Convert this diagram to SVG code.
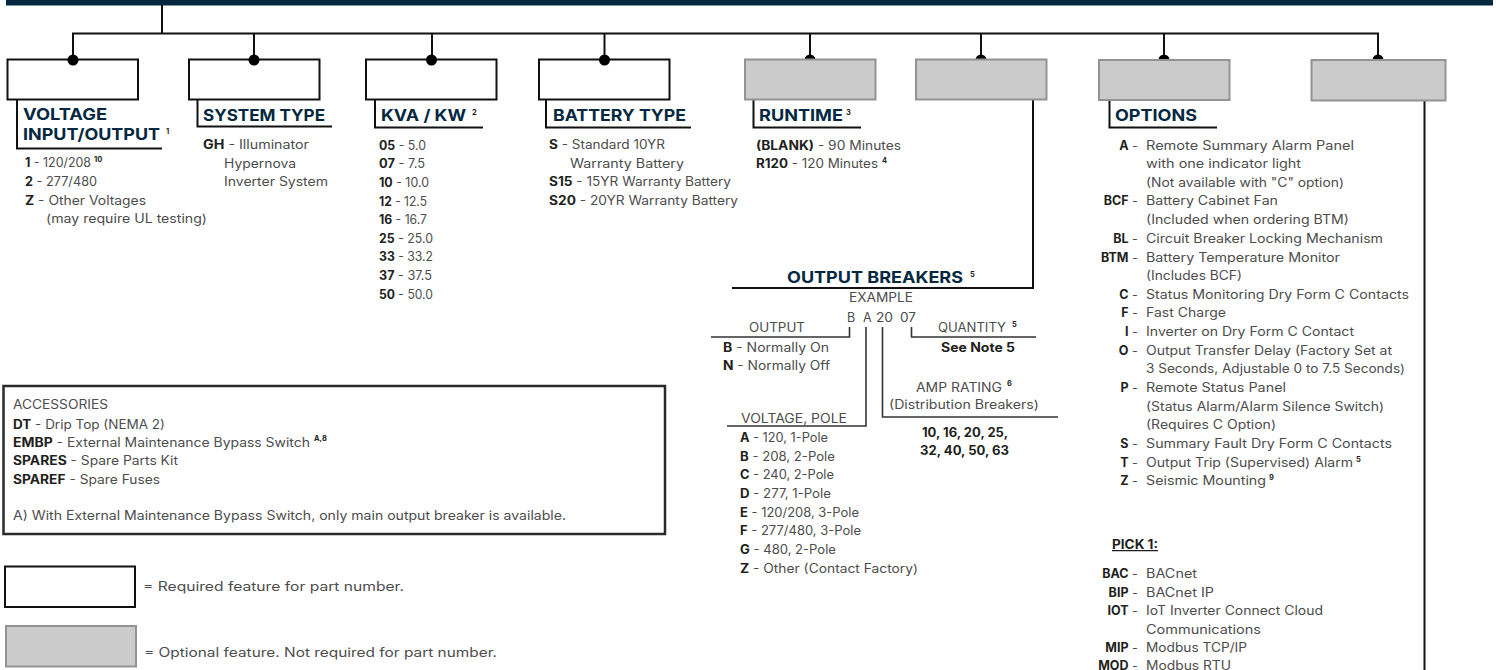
<svg xmlns="http://www.w3.org/2000/svg" width="1496" height="670" viewBox="0 0 1496 670">
<style>
text{font-family:Inter,"Noto Sans","Liberation Sans",sans-serif;font-size:12.5px;fill:#4d4d4d}
tspan.b,text.b{font-weight:700;fill:#231f20}
text.h{font-size:16px;font-weight:700;fill:#03283f}
text.s{font-size:7.5px;font-weight:700;fill:#231f20}
text.k{font-weight:700;fill:#231f20;text-anchor:end}
.w{fill:#fff;stroke:#111;stroke-width:2}
.g{fill:#cbcbcb;stroke:#939393;stroke-width:2}
.l{fill:none;stroke:#111;stroke-width:2}
.t{fill:none;stroke:#333;stroke-width:1.6}
</style>
<defs><circle id="dot" r="5.5" fill="#000"/></defs>
<rect id="header" x="6" y="0" width="1487" height="5.5" fill="#03283f"/>
<g id="node-voltage"><rect class="w" x="7.500" y="59.500" width="130.500" height="40"/>
<text class="h" x="23" y="119.500" textLength="84" lengthAdjust="spacingAndGlyphs">VOLTAGE</text>
<text class="h" x="23" y="140" textLength="137" lengthAdjust="spacingAndGlyphs">INPUT/OUTPUT</text><text class="s" x="166" y="134">1</text>
<text x="25" y="167" textLength="66" lengthAdjust="spacingAndGlyphs"><tspan class="b">1</tspan> - 120/208</text><text class="s" x="94" y="162">10</text>
<text x="25" y="186" textLength="72" lengthAdjust="spacingAndGlyphs"><tspan class="b">2</tspan> - 277/480</text>
<text x="25" y="204.500" textLength="121" lengthAdjust="spacingAndGlyphs"><tspan class="b">Z</tspan> - Other Voltages</text>
<text x="46" y="223" textLength="161" lengthAdjust="spacingAndGlyphs">(may require UL testing)</text></g>
<g id="node-system-type"><rect class="w" x="189" y="59.500" width="130.500" height="40"/>
<text class="h" x="203" y="120.500" textLength="122" lengthAdjust="spacingAndGlyphs">SYSTEM TYPE</text>
<text x="203" y="149" textLength="106" lengthAdjust="spacingAndGlyphs"><tspan class="b">GH</tspan> - Illuminator</text>
<text x="224" y="167.500" textLength="72" lengthAdjust="spacingAndGlyphs">Hypernova</text>
<text x="224" y="186" textLength="104" lengthAdjust="spacingAndGlyphs">Inverter System</text></g>
<g id="node-kva"><rect class="w" x="366" y="59.500" width="130.500" height="40"/>
<text class="h" x="381" y="121" textLength="85" lengthAdjust="spacingAndGlyphs">KVA / KW</text><text class="s" x="472" y="115">2</text>
<text x="379" y="150" textLength="47" lengthAdjust="spacingAndGlyphs"><tspan class="b">05</tspan> - 5.0</text>
<text x="379" y="168" textLength="46" lengthAdjust="spacingAndGlyphs"><tspan class="b">07</tspan> - 7.5</text>
<text x="379" y="187" textLength="50" lengthAdjust="spacingAndGlyphs"><tspan class="b">10</tspan> - 10.0</text>
<text x="379" y="206" textLength="48" lengthAdjust="spacingAndGlyphs"><tspan class="b">12</tspan> - 12.5</text>
<text x="379" y="224" textLength="48" lengthAdjust="spacingAndGlyphs"><tspan class="b">16</tspan> - 16.7</text>
<text x="379" y="243" textLength="54" lengthAdjust="spacingAndGlyphs"><tspan class="b">25</tspan> - 25.0</text>
<text x="379" y="261" textLength="54" lengthAdjust="spacingAndGlyphs"><tspan class="b">33</tspan> - 33.2</text>
<text x="379" y="280" textLength="53" lengthAdjust="spacingAndGlyphs"><tspan class="b">37</tspan> - 37.5</text>
<text x="379" y="299" textLength="54" lengthAdjust="spacingAndGlyphs"><tspan class="b">50</tspan> - 50.0</text></g>
<g id="node-battery"><rect class="w" x="539" y="59.500" width="130.500" height="40"/>
<text class="h" x="553" y="121" textLength="133" lengthAdjust="spacingAndGlyphs">BATTERY TYPE</text>
<text x="549" y="149" textLength="116" lengthAdjust="spacingAndGlyphs"><tspan class="b">S</tspan> - Standard 10YR</text>
<text x="570" y="167.500" textLength="114" lengthAdjust="spacingAndGlyphs">Warranty Battery</text>
<text x="549" y="186" textLength="182" lengthAdjust="spacingAndGlyphs"><tspan class="b">S15</tspan> - 15YR Warranty Battery</text>
<text x="549" y="204.500" textLength="189" lengthAdjust="spacingAndGlyphs"><tspan class="b">S20</tspan> - 20YR Warranty Battery</text></g>
<g id="connectors">
<path class="l" d="M162 5V33.5M73 60V33.5H1378V60M254 33.5V60M432 33.5V60M604.5 33.5V60M810 33.5V60M981 33.5V60M1164 33.5V60"/>
<use href="#dot" x="73" y="60"/><use href="#dot" x="254" y="60"/><use href="#dot" x="431.5" y="60"/><use href="#dot" x="604.5" y="60"/><use href="#dot" x="810" y="60"/><use href="#dot" x="981" y="60"/><use href="#dot" x="1164" y="60"/><use href="#dot" x="1378" y="60"/>
<path class="l" d="M17 100V148.5H162M197.500 100V126.500H332M375 100V127.500H483M546 100V127.500H691M753.500 100V127.500H861M1109.500 100V127.500H1217"/>
<path class="l" d="M1033 100V288H732M1424.500 100V670"/>
<path class="t" d="M711 337H849.500V327M1036 337H911.500V327M727 426H866V327M1058 417H882.500V327"/>
</g>
<g id="node-runtime"><rect class="g" x="745" y="59.500" width="130.500" height="40"/>
<text class="h" x="759" y="121" textLength="84" lengthAdjust="spacingAndGlyphs">RUNTIME</text><text class="s" x="846" y="115">3</text>
<text x="756" y="150" textLength="145" lengthAdjust="spacingAndGlyphs"><tspan class="b">(BLANK)</tspan> - 90 Minutes</text>
<text x="756" y="168" textLength="122" lengthAdjust="spacingAndGlyphs"><tspan class="b">R120</tspan> - 120 Minutes</text><text class="s" x="882" y="163">4</text></g>
<g id="node-output-breakers"><rect class="g" x="916" y="59.500" width="130.500" height="40"/>
<text class="h" x="787" y="283" textLength="176" lengthAdjust="spacingAndGlyphs">OUTPUT BREAKERS</text><text class="s" x="970" y="277">5</text>
<text x="849" y="302" textLength="64" lengthAdjust="spacingAndGlyphs">EXAMPLE</text>
<text x="847" y="321.500">B</text><text x="863" y="321.500">A</text><text x="876" y="321.500" textLength="17" lengthAdjust="spacingAndGlyphs">20</text><text x="900" y="321.500" textLength="16" lengthAdjust="spacingAndGlyphs">07</text>
<text x="749" y="332" textLength="56" lengthAdjust="spacingAndGlyphs">OUTPUT</text>
<text x="723" y="351.500" textLength="106" lengthAdjust="spacingAndGlyphs"><tspan class="b">B</tspan> - Normally On</text>
<text x="723" y="370" textLength="107" lengthAdjust="spacingAndGlyphs"><tspan class="b">N</tspan> - Normally Off</text>
<text x="938" y="332" textLength="68" lengthAdjust="spacingAndGlyphs">QUANTITY</text><text class="s" x="1012" y="327">5</text>
<text class="b" x="941" y="352" textLength="74" lengthAdjust="spacingAndGlyphs">See Note 5</text>
<text x="916" y="391.500" textLength="86" lengthAdjust="spacingAndGlyphs">AMP RATING</text><text class="s" x="1007" y="386">6</text>
<text x="889" y="409" textLength="150" lengthAdjust="spacingAndGlyphs">(Distribution Breakers)</text>
<text class="b" x="922" y="436.500" textLength="86" lengthAdjust="spacingAndGlyphs">10, 16, 20, 25,</text>
<text class="b" x="920" y="455" textLength="89" lengthAdjust="spacingAndGlyphs">32, 40, 50, 63</text>
<text x="741" y="422.500" textLength="106" lengthAdjust="spacingAndGlyphs">VOLTAGE, POLE</text>
<text x="740" y="442" textLength="88" lengthAdjust="spacingAndGlyphs"><tspan class="b">A</tspan> - 120, 1-Pole</text>
<text x="740" y="461" textLength="95" lengthAdjust="spacingAndGlyphs"><tspan class="b">B</tspan> - 208, 2-Pole</text>
<text x="740" y="479" textLength="94" lengthAdjust="spacingAndGlyphs"><tspan class="b">C</tspan> - 240, 2-Pole</text>
<text x="740" y="498" textLength="91" lengthAdjust="spacingAndGlyphs"><tspan class="b">D</tspan> - 277, 1-Pole</text>
<text x="740" y="517" textLength="119" lengthAdjust="spacingAndGlyphs"><tspan class="b">E</tspan> - 120/208, 3-Pole</text>
<text x="740" y="535" textLength="121" lengthAdjust="spacingAndGlyphs"><tspan class="b">F</tspan> - 277/480, 3-Pole</text>
<text x="740" y="554" textLength="96" lengthAdjust="spacingAndGlyphs"><tspan class="b">G</tspan> - 480, 2-Pole</text>
<text x="740" y="573" textLength="178" lengthAdjust="spacingAndGlyphs"><tspan class="b">Z</tspan> - Other (Contact Factory)</text></g>
<g id="node-options"><rect class="g" x="1099" y="60" width="130.500" height="40"/>
<text class="h" x="1115" y="121" textLength="82" lengthAdjust="spacingAndGlyphs">OPTIONS</text>
<text class="k" x="1128.500" y="150">A</text><text x="1132" y="150">-</text><text x="1146" y="150" textLength="208" lengthAdjust="spacingAndGlyphs">Remote Summary Alarm Panel</text>
<text x="1146" y="168" textLength="155" lengthAdjust="spacingAndGlyphs">with one indicator light</text>
<text x="1146" y="187" textLength="198" lengthAdjust="spacingAndGlyphs">(Not available with "C" option)</text>
<text class="k" x="1128.500" y="205">BCF</text><text x="1132" y="205">-</text><text x="1146" y="205" textLength="132" lengthAdjust="spacingAndGlyphs">Battery Cabinet Fan</text>
<text x="1146" y="224" textLength="203" lengthAdjust="spacingAndGlyphs">(Included when ordering BTM)</text>
<text class="k" x="1128.500" y="243">BL</text><text x="1132" y="243">-</text><text x="1146" y="243" textLength="237" lengthAdjust="spacingAndGlyphs">Circuit Breaker Locking Mechanism</text>
<text class="k" x="1128.500" y="261.500">BTM</text><text x="1132" y="261.500">-</text><text x="1146" y="261.500" textLength="194" lengthAdjust="spacingAndGlyphs">Battery Temperature Monitor</text>
<text x="1146" y="280" textLength="96" lengthAdjust="spacingAndGlyphs">(Includes BCF)</text>
<text class="k" x="1128.500" y="299">C</text><text x="1132" y="299">-</text><text x="1146" y="299" textLength="263" lengthAdjust="spacingAndGlyphs">Status Monitoring Dry Form C Contacts</text>
<text class="k" x="1128.500" y="317">F</text><text x="1132" y="317">-</text><text x="1146" y="317" textLength="80" lengthAdjust="spacingAndGlyphs">Fast Charge</text>
<text class="k" x="1128.500" y="336">I</text><text x="1132" y="336">-</text><text x="1146" y="336" textLength="208" lengthAdjust="spacingAndGlyphs">Inverter on Dry Form C Contact</text>
<text class="k" x="1128.500" y="355">O</text><text x="1132" y="355">-</text><text x="1146" y="355" textLength="246" lengthAdjust="spacingAndGlyphs">Output Transfer Delay (Factory Set at</text>
<text x="1146" y="373" textLength="259" lengthAdjust="spacingAndGlyphs">3 Seconds, Adjustable 0 to 7.5 Seconds)</text>
<text class="k" x="1128.500" y="392">P</text><text x="1132" y="392">-</text><text x="1146" y="392" textLength="140" lengthAdjust="spacingAndGlyphs">Remote Status Panel</text>
<text x="1146" y="411" textLength="238" lengthAdjust="spacingAndGlyphs">(Status Alarm/Alarm Silence Switch)</text>
<text x="1146" y="429" textLength="130" lengthAdjust="spacingAndGlyphs">(Requires C Option)</text>
<text class="k" x="1128.500" y="448">S</text><text x="1132" y="448">-</text><text x="1146" y="448" textLength="246" lengthAdjust="spacingAndGlyphs">Summary Fault Dry Form C Contacts</text>
<text class="k" x="1128.500" y="467">T</text><text x="1132" y="467">-</text><text x="1146" y="467" textLength="207" lengthAdjust="spacingAndGlyphs">Output Trip (Supervised) Alarm</text><text class="s" x="1356" y="462">5</text>
<text class="k" x="1128.500" y="485">Z</text><text x="1132" y="485">-</text><text x="1146" y="485" textLength="120" lengthAdjust="spacingAndGlyphs">Seismic Mounting</text><text class="s" x="1269" y="480">9</text>
<text class="b" x="1112" y="549" textLength="46" lengthAdjust="spacingAndGlyphs" text-decoration="underline" font-size="11.500">PICK 1:</text>
<text class="k" x="1128.500" y="578">BAC</text><text x="1132" y="578">-</text><text x="1146" y="578" textLength="51" lengthAdjust="spacingAndGlyphs">BACnet</text>
<text class="k" x="1128.500" y="597">BIP</text><text x="1132" y="597">-</text><text x="1146" y="597" textLength="68" lengthAdjust="spacingAndGlyphs">BACnet IP</text>
<text class="k" x="1128.500" y="615">IOT</text><text x="1132" y="615">-</text><text x="1146" y="615" textLength="177" lengthAdjust="spacingAndGlyphs">IoT Inverter Connect Cloud</text>
<text x="1146" y="633.500" textLength="115" lengthAdjust="spacingAndGlyphs">Communications</text>
<text class="k" x="1128.500" y="652">MIP</text><text x="1132" y="652">-</text><text x="1146" y="652" textLength="101" lengthAdjust="spacingAndGlyphs">Modbus TCP/IP</text>
<text class="k" x="1128.500" y="669.500">MOD</text><text x="1132" y="669.500">-</text><text x="1146" y="669.500" textLength="85" lengthAdjust="spacingAndGlyphs">Modbus RTU</text></g>
<g id="node-last"><rect class="g" x="1311.500" y="60" width="134" height="40.500"/></g>
<g id="accessories"><rect x="3.500" y="386" width="661.500" height="148" fill="#fff" stroke="#2a2a2a" stroke-width="2.500"/>
<text x="13" y="409" textLength="95" lengthAdjust="spacingAndGlyphs">ACCESSORIES</text>
<text x="13" y="429" textLength="152" lengthAdjust="spacingAndGlyphs"><tspan class="b">DT</tspan> - Drip Top (NEMA 2)</text>
<text x="13" y="447" textLength="297" lengthAdjust="spacingAndGlyphs"><tspan class="b">EMBP</tspan> - External Maintenance Bypass Switch</text><text class="s" x="314" y="441">A,8</text>
<text x="13" y="465" textLength="165" lengthAdjust="spacingAndGlyphs"><tspan class="b">SPARES</tspan> - Spare Parts Kit</text>
<text x="13" y="484" textLength="147" lengthAdjust="spacingAndGlyphs"><tspan class="b">SPAREF</tspan> - Spare Fuses</text>
<text x="13" y="520" textLength="553" lengthAdjust="spacingAndGlyphs">A) With External Maintenance Bypass Switch, only main output breaker is available.</text></g>
<g id="legend-required"><rect class="w" x="5" y="566.500" width="130" height="40.500"/><text x="143" y="591" textLength="261" lengthAdjust="spacingAndGlyphs">= Required feature for part number.</text></g>
<g id="legend-optional"><rect class="g" x="6" y="626" width="130" height="40.500"/><text x="144" y="657" textLength="353" lengthAdjust="spacingAndGlyphs">= Optional feature. Not required for part number.</text></g>
</svg>
